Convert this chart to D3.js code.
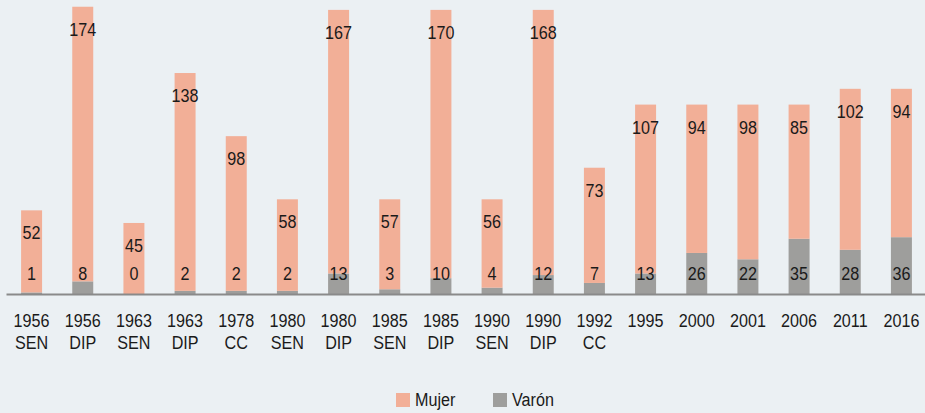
<!DOCTYPE html>
<html>
<head>
<meta charset="utf-8">
<script src="https://cdn.jsdelivr.net/npm/d3@7"></script>
<style>
  body { margin: 0; background: #ebf0f3; }
  text { font-family: 'Liberation Sans', Arial, sans-serif; fill: #1a1a1a; font-size: 19px; }
</style>
</head>
<body>
<script>
  // chart data
  const categories = ['1956 SEN', '1956 DIP', '1963 SEN', '1963 DIP', '1978 CC', '1980 SEN',
    '1980 DIP', '1985 SEN', '1985 DIP', '1990 SEN', '1990 DIP', '1992 CC',
    '1995', '2000', '2001', '2006', '2011', '2016'];
  const mujer = [52, 174, 45, 138, 98, 58, 167, 57, 170, 56, 168, 73, 107, 94, 98, 85, 102, 94];
  const varon = [1, 8, 0, 2, 2, 2, 13, 3, 10, 4, 12, 7, 13, 26, 22, 35, 28, 36];
  const seriesNames = ['Mujer', 'Varón'];

  const colors = { Mujer: '#f2af97', 'Varón': '#9e9e9c' };
  const narrow = 0.85; // squeeze text to look like a condensed face

  let svgContainer = d3.select('body')
    .append('svg')
    .attr('width', 925)
    .attr('height', 413);

  // background
  svgContainer.append('rect')
    .attr('width', 925)
    .attr('height', 413)
    .attr('fill', '#ebf0f3');

  let xScale = d3.scaleBand()
    .domain(categories)
    .range([6, 927])
    .paddingInner(0.59)
    .paddingOuter(0.295);

  let yScale = d3.scaleLinear()
    .domain([0, 185])
    .range([294, 2]);

  // place a condensed text at x, y
  function addText(parent, x, y, txt, anchor) {
    return parent.append('text')
      .attr('transform', 'translate(' + x + ',' + y + ') scale(' + narrow + ',1)')
      .attr('text-anchor', anchor || 'middle')
      .text(txt);
  }

  let rows = categories.map((c, i) => ({ cat: c, Mujer: mujer[i], 'Varón': varon[i] }));
  let stacked = d3.stack().keys(['Varón', 'Mujer'])(rows);

  // bars
  stacked.forEach((layer) => {
    svgContainer.append('g')
      .selectAll('rect')
      .data(layer)
      .enter()
      .append('rect')
        .attr('x', (d) => xScale(d.data.cat))
        .attr('y', (d) => yScale(d[1]))
        .attr('width', xScale.bandwidth())
        .attr('height', (d) => yScale(d[0]) - yScale(d[1]))
        .attr('fill', colors[layer.key]);
  });

  // x axis
  let xAxis = d3.axisBottom(xScale).tickSize(0).tickFormat('');
  let axisG = svgContainer.append('g')
    .attr('transform', 'translate(0, 294)')
    .call(xAxis);
  axisG.select('.domain')
    .attr('stroke', '#8a8a8a')
    .attr('stroke-width', 2);

  // category labels (two lines)
  categories.forEach((c) => {
    let cx = xScale(c) + xScale.bandwidth() / 2;
    c.split(' ').forEach((p, j) => {
      addText(svgContainer, cx, 327 + j * 22, p);
    });
  });

  // Mujer labels, just below top of bar
  stacked[1].forEach((d) => {
    addText(svgContainer, xScale(d.data.cat) + xScale.bandwidth() / 2,
      yScale(d[1]) + 29, d.data.Mujer);
  });

  // Varón labels, near the base
  stacked[0].forEach((d) => {
    addText(svgContainer, xScale(d.data.cat) + xScale.bandwidth() / 2,
      yScale(0) - 14, d.data['Varón']);
  });

  // legend
  let legendX = [396, 493];
  seriesNames.forEach((name, i) => {
    svgContainer.append('rect')
      .attr('x', legendX[i])
      .attr('y', 393)
      .attr('width', 14)
      .attr('height', 14)
      .attr('fill', colors[name]);
    addText(svgContainer, legendX[i] + 19, 406, name, 'start');
  });
</script>
</body>
</html>
